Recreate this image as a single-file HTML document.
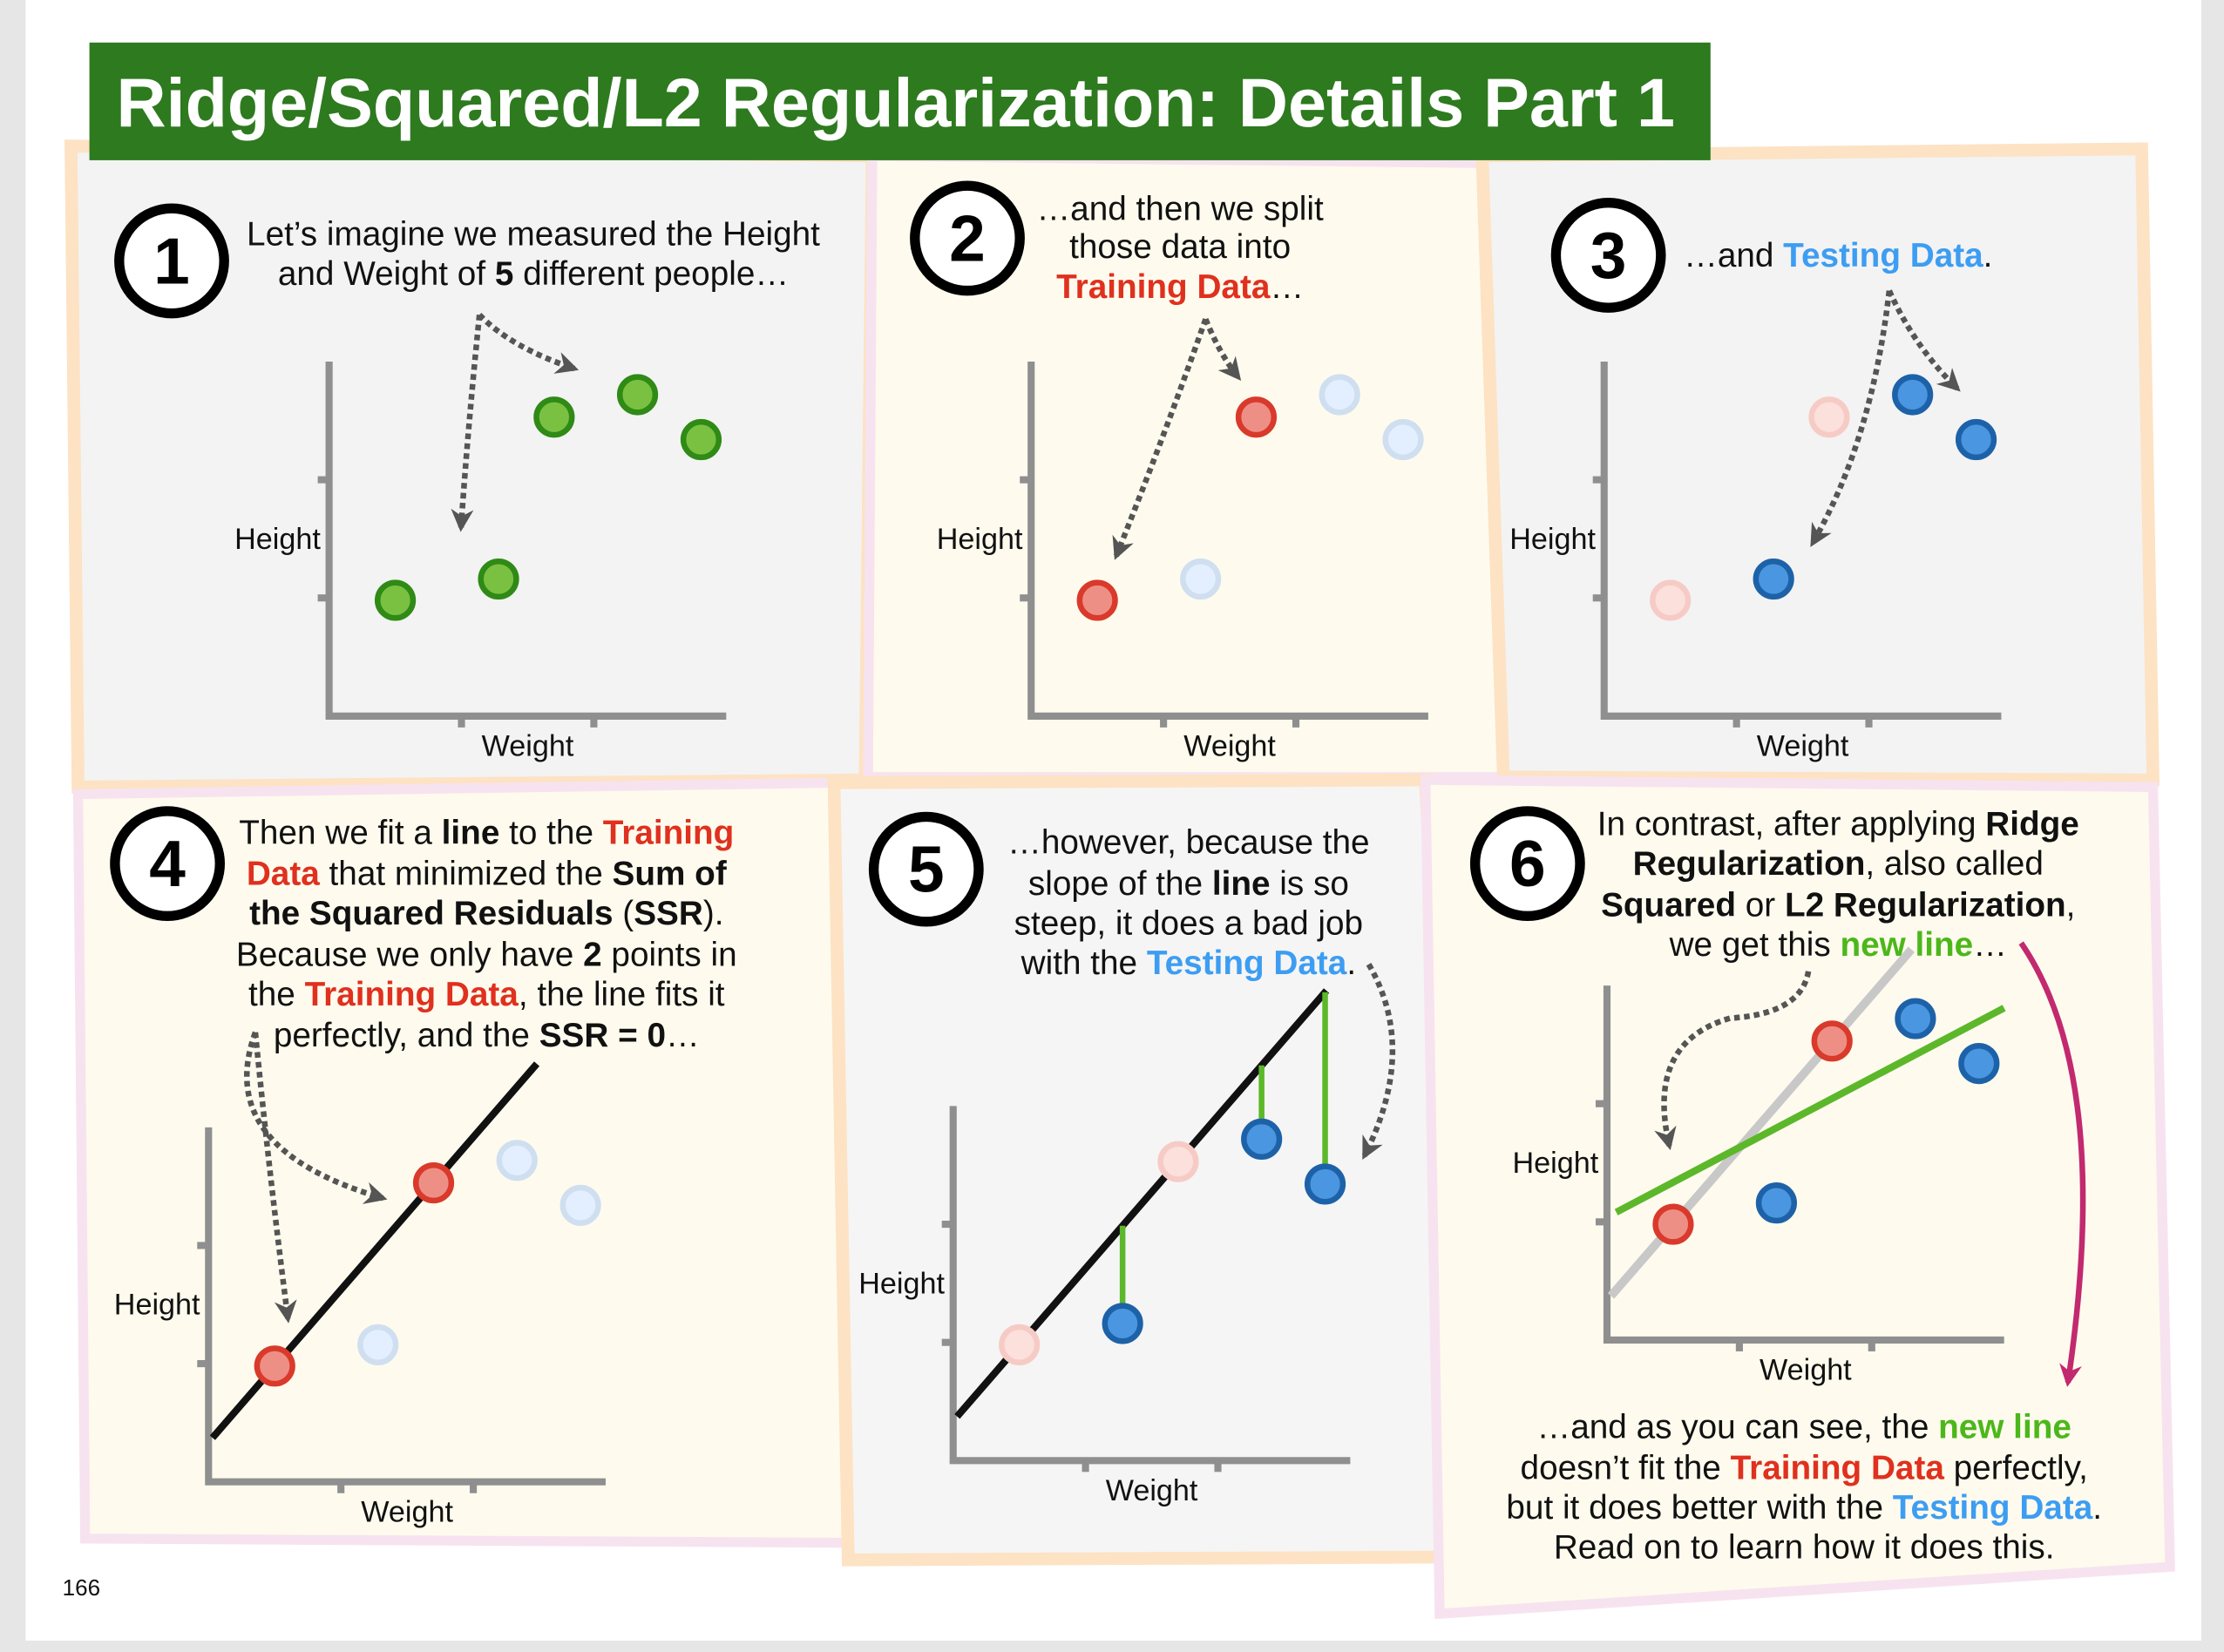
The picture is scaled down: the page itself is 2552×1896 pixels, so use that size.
<!DOCTYPE html>
<html><head><meta charset="utf-8">
<style>
html,body{margin:0;padding:0;background:#e9e9e9;}
svg{display:block;}
text{font-family:"Liberation Sans",sans-serif;}
</style></head>
<body>
<svg id="root" width="2552" height="1896" viewBox="0 0 1568 1165" xmlns="http://www.w3.org/2000/svg">
<defs>
<marker id="ah" viewBox="0 0 10 10" refX="8" refY="5" markerWidth="4" markerHeight="4" orient="auto"><path d="M0,0 L10,5 L0,10 L3,5 Z" fill="#555"/></marker>
<marker id="ahm" viewBox="0 0 10 10" refX="8" refY="5" markerWidth="4" markerHeight="4" orient="auto"><path d="M0,0 L10,5 L0,10 L3,5 Z" fill="#c2296f"/></marker>
</defs>
<rect x="0" y="0" width="1568" height="1165" fill="#e6e6e6"/>
<rect x="18" y="0" width="1534" height="1157" fill="#ffffff"/>

<g>
<polygon points="50,103 615,110 610,550 55,555" fill="#f3f3f3" stroke="#fde2c4" stroke-width="9"/>
<polygon points="615,110 1045,115 1060,548 612,548" fill="#fefbee" stroke="#f7e3ef" stroke-width="7"/>
<polygon points="1045,110 1510,105 1518,550 1060,548" fill="#f3f3f3" stroke="#fde2c4" stroke-width="9"/>
<polygon points="55,560 588,552 603,1088 60,1085" fill="#fefbee" stroke="#f7e3ef" stroke-width="7"/>
<polygon points="588,552 1005,550 1032,1098 598,1100" fill="#f5f5f5" stroke="#fde2c4" stroke-width="9"/>
<polygon points="1005,550 1518,555 1530,1105 1015,1138" fill="#fefbee" stroke="#f7e3ef" stroke-width="7"/>
</g>

<rect x="63" y="30" width="1143" height="83" fill="#2e7a1f"/>
<text x="82" y="89" font-size="48.6" font-weight="bold" fill="#fff">Ridge/Squared/L2 Regularization: Details Part 1</text>

<g font-size="23.8" fill="#111" text-anchor="middle">
<text x="376" y="173">Let’s imagine we measured the Height</text>
<text x="376" y="201">and Weight of <tspan font-weight="bold">5</tspan> different people…</text>
<text x="832" y="155">…and then we split</text>
<text x="832" y="182">those data into</text>
<text x="832" y="210" font-weight="bold" fill="#e0301e">Training Data<tspan fill="#111" font-weight="normal">…</tspan></text>
<text x="1296" y="188">…and <tspan font-weight="bold" fill="#3d9df2">Testing Data</tspan>.</text>
<text x="343" y="595">Then we fit a <tspan font-weight="bold">line</tspan> to the <tspan font-weight="bold" fill="#e0301e">Training</tspan></text>
<text x="343" y="624"><tspan font-weight="bold" fill="#e0301e">Data</tspan> that minimized the <tspan font-weight="bold">Sum of</tspan></text>
<text x="343" y="652" font-weight="bold">the Squared Residuals <tspan font-weight="normal">(</tspan>SSR<tspan font-weight="normal">).</tspan></text>
<text x="343" y="681">Because we only have <tspan font-weight="bold">2</tspan> points in</text>
<text x="343" y="709">the <tspan font-weight="bold" fill="#e0301e">Training Data</tspan>, the line fits it</text>
<text x="343" y="738">perfectly, and the <tspan font-weight="bold">SSR = 0</tspan>…</text>
<text x="838" y="602">…however, because the</text>
<text x="838" y="631">slope of the <tspan font-weight="bold">line</tspan> is so</text>
<text x="838" y="659">steep, it does a bad job</text>
<text x="838" y="687">with the <tspan font-weight="bold" fill="#3d9df2">Testing Data</tspan>.</text>
<text x="1296" y="589">In contrast, after applying <tspan font-weight="bold">Ridge</tspan></text>
<text x="1296" y="617"><tspan font-weight="bold">Regularization</tspan>, also called</text>
<text x="1296" y="646"><tspan font-weight="bold">Squared</tspan> or <tspan font-weight="bold">L2 Regularization</tspan>,</text>
<text x="1296" y="674">we get this <tspan font-weight="bold" fill="#4cb71a">new line</tspan>…</text>
<text x="1272" y="1014">…and as you can see, the <tspan font-weight="bold" fill="#4cb71a">new line</tspan></text>
<text x="1272" y="1043">doesn’t fit the <tspan font-weight="bold" fill="#e0301e">Training Data</tspan> perfectly,</text>
<text x="1272" y="1071">but it does better with the <tspan font-weight="bold" fill="#3d9df2">Testing Data</tspan>.</text>
<text x="1272" y="1099">Read on to learn how it does this.</text>
</g>

<g id="numbers"></g>

<g fill="none" stroke="#555" stroke-width="4" stroke-dasharray="4,3">
<path d="M338,222 Q360,245 405,260" marker-end="url(#ah)"/>
<path d="M338,222 Q330,300 325,372" marker-end="url(#ah)"/>
<path d="M850,225 Q860,250 873,266" marker-end="url(#ah)"/>
<path d="M850,225 Q820,310 787,392" marker-end="url(#ah)"/>
<path d="M1332,205 Q1350,245 1380,274" marker-end="url(#ah)"/>
<path d="M1332,205 Q1320,310 1278,383" marker-end="url(#ah)"/>
<path d="M180,728 Q150,810 270,845" marker-end="url(#ah)"/>
<path d="M180,728 Q190,830 203,930" marker-end="url(#ah)"/>
<path d="M965,680 Q1000,740 962,815" marker-end="url(#ah)"/>
<path d="M1275,685 Q1270,715 1220,718 Q1160,735 1177,808" marker-end="url(#ah)"/>
</g>
<path d="M1425,665 Q1490,760 1458,975" fill="none" stroke="#c2296f" stroke-width="4" marker-end="url(#ahm)"/>

<g id="charts"></g>

<text x="44" y="1125" font-size="16" fill="#111">166</text>

<script>
// shared data (weight, height) for the 5 people
const weights = [0.5, 1.28, 1.7, 2.33, 2.81];
const heights = [0.98, 1.16, 2.53, 2.72, 2.34];
const trainIdx = [0, 2];
const testIdx = [1, 3, 4];
const ridgeIntercept = [1.04];
const ridgeSlope = [0.59];
const stepNumbers = ['1','2','3','4','5','6'];

const NS = 'http://www.w3.org/2000/svg';
function mk(tag, attrs, parent){const e=document.createElementNS(NS,tag);for(const k in attrs)e.setAttribute(k,attrs[k]);parent.appendChild(e);return e;}

const numPos=[[121,184],[682,168],[1134,180],[118,609],[653,613],[1077,609]];
const ng=document.getElementById('numbers');
stepNumbers.forEach((s,i)=>{
  const c=mk('circle',{cx:numPos[i][0],cy:numPos[i][1],r:37,fill:'#fff',stroke:'#000','stroke-width':7},ng);
  
  
  const t=mk('text',{x:numPos[i][0],y:numPos[i][1]+16,'font-size':46,'font-weight':'bold','text-anchor':'middle',fill:'#000'},ng);
  t.textContent=s;
  
  
});

// least-squares line through training points
const tx=trainIdx.map(i=>weights[i]), ty=trainIdx.map(i=>heights[i]);
const mx=(tx[0]+tx[1])/2, my=(ty[0]+ty[1])/2;
const lsSlope=(ty[1]-ty[0])/(tx[1]-tx[0]);
const lsInt=my-lsSlope*mx;

const STY={
 green:['#7ac142','#2f8a16'], red:['#ee8f86','#d93a2b'], blue:['#4a96e0','#1d62a8'],
 lblue:['#e3efff','#cfdff0'], lred:['#fbe0dc','#f7cbc5']
};
const charts=[
 {ox:232,oy:505,styles:['green','green','green','green','green']},
 {ox:727,oy:505,styles:['red','lblue','red','lblue','lblue']},
 {ox:1131,oy:505,styles:['lred','blue','lred','blue','blue']},
 {ox:147,oy:1045,styles:['red','lblue','red','lblue','lblue'],ls:'fit',lx:[0.03,2.48]},
 {ox:672,oy:1030,styles:['lred','blue','lred','blue','blue'],ls:'fit',lx:[0.03,2.82],res:true},
 {ox:1133,oy:945,styles:['red','blue','red','blue','blue'],ls:'gray',lx:[0.03,2.3],ridge:true}
];
const root=document.getElementById('charts');
charts.forEach((c,ci)=>{
  const g=mk('g',{},root);
  
  
  const X=v=>c.ox+v/3*280, Y=v=>c.oy-v/3*250;
  const ax=mk('path',{d:`M${c.ox},${c.oy-250} V${c.oy} H${c.ox+280}`,fill:'none',stroke:'#8f8f8f','stroke-width':5},g);
  
  
  [1,2].forEach(k=>{
    const t1=mk('line',{x1:c.ox-8,x2:c.ox,y1:Y(k),y2:Y(k),stroke:'#8f8f8f','stroke-width':5},g);
    
    
    const t2=mk('line',{x1:X(k),x2:X(k),y1:c.oy,y2:c.oy+8,stroke:'#8f8f8f','stroke-width':5},g);
    
    
  });
  const yl=mk('text',{x:c.ox-6,y:c.oy-118,'font-size':21,'text-anchor':'end',fill:'#111'},g);
  yl.textContent='Height';
  
  
  const xl=mk('text',{x:c.ox+140,y:c.oy+28,'font-size':21,'text-anchor':'middle',fill:'#111'},g);
  xl.textContent='Weight';
  
  
  if(c.ls){
    const x0=c.lx[0], x1=c.lx[1];
    const col=c.ls==='gray'?'#c8c8c8':'#111';
    const l=mk('line',{x1:X(x0),y1:Y(lsInt+lsSlope*x0),x2:X(x1),y2:Y(lsInt+lsSlope*x1),stroke:col,'stroke-width':c.ls==='gray'?6:5},g);
    
    
  }
  if(c.res){
    testIdx.forEach(i=>{
      const r=mk('line',{x1:X(weights[i]),y1:Y(heights[i]),x2:X(weights[i]),y2:Y(lsInt+lsSlope*weights[i]),stroke:'#5cb82a','stroke-width':4},g);
      
      
    });
  }
  if(c.ridge){
    const a=ridgeIntercept[0], b=ridgeSlope[0];
    const l=mk('line',{x1:X(0.07),y1:Y(a+b*0.07),x2:X(3.0),y2:Y(a+b*3.0),stroke:'#5cb82a','stroke-width':5},g);
    
    
  }
  weights.forEach((w,i)=>{
    const s=STY[c.styles[i]];
    const p=mk('circle',{cx:X(w),cy:Y(heights[i]),r:12.5,fill:s[0],stroke:s[1],'stroke-width':4},g);
    
    
  });
});
</script>
</svg>
</body></html>
